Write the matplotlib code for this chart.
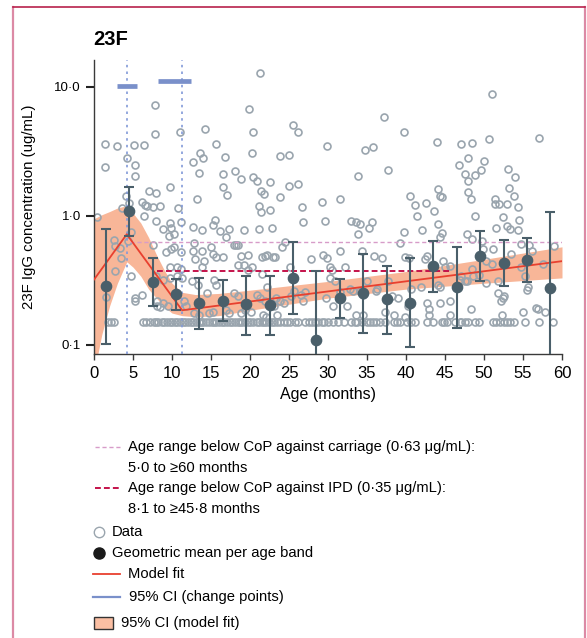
import matplotlib
matplotlib.use('Agg')
import matplotlib.pyplot as plt
import numpy as np
from matplotlib.ticker import FixedLocator, NullLocator

plt.rcParams['font.family'] = ['Liberation Sans', 'DejaVu Sans']

# individual measurements (age in months, IgG ug/mL)
data_age = [7.8, 19.9, 1.4, 3.0, 5.1, 6.4, 7.8, 11.0, 14.2, 20.4, 15.7, 13.6, 14.0, 12.7, 16.8, 20.2,
            4.2, 1.4, 5.3, 5.3, 13.5, 16.5, 18.1, 18.8, 20.4, 9.7, 7.1, 8.0, 16.6, 17.1, 13.2, 4.1,
            4.5, 6.2, 6.5, 7.5, 8.5, 10.8, 3.6,
            21.3, 25.5, 26.2, 23.8, 25.0, 29.9, 34.8, 35.8, 37.2, 39.7, 37.7, 33.9, 20.9, 22.6, 21.4,
            21.8, 25.0, 26.2, 23.8, 29.2, 31.5, 21.2, 22.6, 26.7, 40.5,
            51.0, 44.0, 47.0, 48.4, 50.7, 57.0, 47.9, 46.8, 50.0, 47.6, 49.6, 48.9, 47.9, 53.1, 54.0,
            44.1, 41.2, 42.5, 44.4, 44.6, 47.9, 48.3, 53.2, 53.8, 51.4, 51.4, 51.9, 53.0, 54.4, 43.6,
            0.4, 2.5, 3.5, 2.65, 4.8, 5.3, 6.2, 6.4, 7.9, 8.8, 9.8, 9.9, 11.2, 9.6, 10.3, 12.7, 12.8,
            13.9, 15.3, 15.5, 16.2, 17.3, 16.9, 19.2, 17.9, 18.2, 18.4, 7.5, 9.2, 9.9, 10.3, 11.2,
            12.7, 13.9, 15.0, 15.2, 15.7, 16.5, 13.0, 14.1, 18.8, 19.7, 18.4, 19.2, 13.9, 9.8, 10.6,
            11.1, 19.7, 8.0, 8.8, 9.7, 10.7, 11.3, 12.6, 13.3, 15.4, 15.6, 14.5, 17.9, 18.4, 8.1, 8.9,
            8.1, 8.5, 9.5, 11.5, 11.8, 15.2, 14.7, 16.9, 17.3, 18.8, 19.4, 20.1, 12.8, 13.5,
            4.8, 4.4, 2.7, 3.3, 1.6, 5.2, 6.8,
            21.4, 26.8, 29.6, 21.2, 22.8, 33.0, 33.6, 34.1, 35.2, 35.7, 33.9, 39.7, 39.2, 24.5, 24.1,
            21.9, 22.2, 22.9, 23.2, 21.6, 20.3, 25.1, 27.8, 29.4, 29.9, 31.5, 30.3, 30.5, 32.2, 34.4,
            35.9, 36.9, 21.5, 22.2, 20.9, 21.3, 21.9, 23.8, 24.3, 23.3, 23.1, 23.4, 21.7, 22.1, 25.3,
            25.6, 26.6, 27.0, 26.8, 29.7, 30.7, 30.3, 30.9, 31.5, 32.8, 33.2, 34.1, 34.5, 35.0, 36.2,
            36.3, 33.6, 34.5, 32.4, 37.7, 38.2, 39.0, 38.4, 37.3, 39.9, 40.2, 39.9,
            41.4, 44.1, 42.0, 44.6, 44.4, 48.8, 47.8, 48.4, 54.5, 52.4, 52.9, 53.3, 51.6, 54.4, 54.8,
            55.8, 56.1, 51.1, 49.7, 49.9, 53.5, 42.7, 42.4, 44.7, 40.4, 45.0, 45.6, 48.4, 50.3, 51.0,
            48.6, 49.3, 47.1, 47.8, 46.9, 47.5, 50.2, 51.8, 54.8, 55.2, 57.6, 59.0, 40.6, 41.9, 44.1,
            44.4, 51.8, 52.6, 52.4, 55.6, 44.4, 45.6, 42.7, 42.9, 43.0, 45.6, 48.3, 52.2, 52.3, 55.0,
            56.9, 57.8, 56.7, 55.5]
data_conc = [7.3, 6.8, 3.6, 3.5, 3.55, 3.55, 4.3, 4.5, 4.7, 4.5, 3.64, 3.1, 2.8, 2.6, 2.84, 3.1,
             2.8, 2.39, 2.47, 2.04, 2.15, 2.13, 2.22, 1.92, 2.0, 1.66, 1.56, 1.5, 1.67, 1.46, 1.36, 1.42,
             1.26, 1.28, 1.22, 1.17, 1.19, 1.15, 1.15,
             12.8, 5.1, 4.5, 2.9, 2.97, 3.47, 3.25, 3.45, 5.8, 4.5, 2.27, 2.04, 1.87, 1.82, 1.57,
             1.48, 1.71, 1.78, 1.40, 1.27, 1.35, 1.2, 1.12, 1.17, 1.42,
             8.9, 3.73, 3.6, 3.68, 3.93, 4.0, 2.82, 2.49, 2.65, 2.13, 2.25, 2.06, 1.88, 2.31, 2.0,
             1.62, 1.21, 1.25, 1.42, 1.40, 1.53, 1.36, 1.64, 1.43, 1.34, 1.23, 1.23, 1.23, 1.17, 1.1,
             0.98, 0.65, 0.47, 0.37, 0.34, 0.22, 0.243, 1.0, 0.91, 0.79, 0.88, 0.81, 0.89, 0.70, 0.72, 0.82, 0.62,
             0.78, 0.85, 0.93, 0.76, 0.79, 0.68, 0.78, 0.59, 0.59, 0.59, 0.59, 0.52, 0.55, 0.57, 0.52,
             0.53, 0.53, 0.57, 0.51, 0.48, 0.48, 0.46, 0.45, 0.49, 0.5, 0.415, 0.415, 0.40, 0.40, 0.40,
             0.39, 0.38, 0.34, 0.32, 0.33, 0.34, 0.33, 0.31, 0.29, 0.32, 0.29, 0.25, 0.25, 0.24, 0.22, 0.21,
             0.20, 0.195, 0.20, 0.22, 0.2, 0.18, 0.175, 0.185, 0.175, 0.175, 0.185, 0.18, 0.176, 0.17,
             0.75, 0.64, 0.58, 0.56, 0.235, 0.23, 1.2,
             1.08, 0.89, 0.91, 0.79, 0.80, 0.91, 0.89, 0.86, 0.8, 0.9, 0.72, 0.75, 0.62, 0.63, 0.575,
             0.49, 0.5, 0.48, 0.48, 0.48, 0.4, 0.40, 0.46, 0.5, 0.47, 0.53, 0.40, 0.38, 0.40, 0.53,
             0.49, 0.47, 0.355, 0.28, 0.243, 0.23, 0.22, 0.22, 0.21, 0.23, 0.2, 0.17, 0.17, 0.165, 0.24,
             0.26, 0.245, 0.255, 0.22, 0.23, 0.2, 0.33, 0.31, 0.255, 0.27, 0.26, 0.26, 0.245, 0.31, 0.26,
             0.27, 0.17, 0.17, 0.2, 0.31, 0.24, 0.23, 0.17, 0.18, 0.165, 0.2, 0.48,
             0.99, 0.86, 0.78, 0.74, 0.69, 0.99, 0.72, 0.66, 0.93, 0.98, 0.84, 0.79, 0.8, 0.77, 0.6,
             0.59, 0.53, 0.55, 0.64, 0.55, 0.51, 0.49, 0.46, 0.45, 0.47, 0.40, 0.41, 0.39, 0.45, 0.42,
             0.34, 0.35, 0.34, 0.31, 0.32, 0.31, 0.30, 0.31, 0.40, 0.34, 0.42, 0.58, 0.27, 0.28, 0.29,
             0.28, 0.25, 0.24, 0.23, 0.28, 0.21, 0.22, 0.21, 0.19, 0.17, 0.17, 0.19, 0.22, 0.17, 0.18,
             0.19, 0.18, 0.194, 0.265]

# measurements sitting at the assay floor
floor_value = 0.15
floor_age = [1.8, 2.2, 2.6, 6.3, 6.7, 7.2, 7.7, 8.0, 8.25, 8.7, 9.0, 9.3, 9.7, 10.0, 10.4, 10.7, 11.0,
             11.4, 11.7, 12.1, 12.4, 12.7, 13.1, 13.4, 13.7, 14.0, 14.4, 14.7, 15.1, 15.4, 15.7, 16.0,
             16.4, 16.7, 17.0, 17.4, 17.7, 18.1, 18.4, 18.7, 19.0, 19.4, 19.7, 20.0, 20.4, 20.9, 21.2,
             21.5, 21.8, 22.1, 22.4, 22.8, 23.1, 23.4, 23.85, 24.3, 24.7, 25.1, 25.8, 26.2, 27.1, 27.5,
             27.9, 28.3, 28.7, 29.2, 29.5, 30.0, 30.7, 31.3, 32.0, 33.0, 33.4, 33.7, 34.3, 35.0, 35.4,
             35.8, 36.2, 36.7, 37.3, 38.4, 38.8, 39.2, 40.1, 40.7, 41.2, 42.7, 43.5, 44.6, 44.9, 45.2,
             46.3, 46.9, 47.0, 47.6, 48.0, 48.9, 49.3, 51.2, 51.6, 52.1, 52.5, 52.9, 53.3, 53.8, 55.3,
             57.0, 58.9]

# geometric mean per 3-month age band with 95% CI
band_age = [1.5, 4.5, 7.5, 10.5, 13.5, 16.5, 19.5, 22.5, 25.5, 28.5,
            31.5, 34.5, 37.5, 40.5, 43.5, 46.5, 49.5, 52.5, 55.5, 58.5]
gm = [0.284, 1.09, 0.308, 0.246, 0.211, 0.219, 0.206, 0.203, 0.327, 0.108,
      0.229, 0.25, 0.225, 0.21, 0.407, 0.278, 0.49, 0.432, 0.453, 0.277]
gm_lo = [0.102, 0.70, 0.20, 0.186, 0.133, 0.153, 0.12, 0.12, 0.174, 0.08,
         0.162, 0.124, 0.121, 0.0965, 0.258, 0.136, 0.312, 0.287, 0.308, 0.08]
gm_hi = [0.789, 1.68, 0.473, 0.323, 0.331, 0.318, 0.343, 0.343, 0.622, 0.375,
         0.323, 0.505, 0.407, 0.467, 0.636, 0.569, 0.761, 0.652, 0.675, 1.07]

# piecewise model fit and its 95% band
fit_age = [0, 4.2, 11.3, 60]
fit_val = [0.32, 0.72, 0.185, 0.445]
ci_age = [0, 1, 2, 3, 4.2, 5, 6, 7, 8, 9, 10, 11.3, 13, 16, 20, 30, 40, 50, 60]
ci_hi = [0.95, 1.02, 1.08, 1.15, 1.2, 1.05, 0.88, 0.68, 0.5, 0.38, 0.3, 0.255, 0.245, 0.25,
         0.265, 0.31, 0.37, 0.46, 0.575]
ci_lo = [0.06, 0.12, 0.2, 0.3, 0.44, 0.4, 0.34, 0.27, 0.23, 0.197, 0.176, 0.168, 0.165, 0.168,
         0.185, 0.23, 0.27, 0.30, 0.33]

# change points and their CIs
change_pts = [4.2, 11.3]
cp_lo = [2.9, 8.2]
cp_hi = [5.5, 12.4]
cp_y = [10.1, 11.1]

# correlates of protection
cop_carriage = 0.63
carriage_range = [4.6, 60]
cop_ipd = 0.375
ipd_range = [8.1, 45.8]

yticks = [0.1, 1.0, 10.0]
ytick_labels = ['0·1', '1·0', '10·0']
xticks = list(range(0, 61, 5))

W, H = 587, 638
fig = plt.figure(figsize=(W / 100, H / 100), dpi=100)
ax = fig.add_axes([94 / W, 1 - 354 / H, 468 / W, 294 / H])

ax.fill_between(ci_age, ci_lo, ci_hi, color='#f8b698', lw=0, zorder=1)
ax.plot(data_age, data_conc, 'o', mfc='none', mec='#9aa5ae', ms=5.0, mew=1.2, zorder=2)
ax.plot(floor_age, [floor_value] * len(floor_age), 'o', mfc='none', mec='#9aa5ae',
        ms=5.0, mew=1.2, zorder=2)
ax.hlines(cop_carriage, *carriage_range, colors='#d79cc9', lw=1.0, linestyles=(0, (3, 2)), zorder=2.5)
ax.hlines(cop_ipd, *ipd_range, colors='#c4124a', lw=1.4, linestyles=(0, (3, 1.6)), zorder=2.5)
for cp in change_pts:
    ax.axvline(cp, color='#8299d8', lw=1.2, ls=(0, (1.5, 2.5)), zorder=2.6)
ax.hlines(cp_y, cp_lo, cp_hi, colors='#7a90ca', lw=3.4, zorder=3)
ax.plot(fit_age, fit_val, color='#e8402f', lw=1.3, zorder=3)

gm_arr = np.array(gm)
ax.errorbar(band_age, gm, yerr=[gm_arr - np.array(gm_lo), np.array(gm_hi) - gm_arr],
            fmt='o', ms=7.4, color='#4a5f6a', ecolor='#4a5f6a', elinewidth=1.5,
            capsize=3.3, capthick=1.5, zorder=4)

ax.set_yscale('log')
ax.set_ylim(0.0847, 16.2)
ax.set_xlim(0, 60)
ax.yaxis.set_major_locator(FixedLocator(yticks))
ax.yaxis.set_minor_locator(NullLocator())
ax.set_yticklabels(ytick_labels)
ax.set_xticks(xticks)
for s in ['top', 'right']:
    ax.spines[s].set_visible(False)
for s in ['left', 'bottom']:
    ax.spines[s].set_color('#3a3a3a')
    ax.spines[s].set_linewidth(1.0)
ax.tick_params(axis='y', length=6, width=1.5, color='#222222', labelsize=9.5, pad=3.5)
ax.tick_params(axis='x', length=4.5, width=1.0, color='#3a3a3a', labelsize=12, pad=4)
ax.set_ylabel('23F IgG concentration (ug/mL)', fontsize=10.8)
ax.yaxis.set_label_coords(-0.124, 0.5)
ax.set_xlabel('Age (months)', fontsize=11.5)
ax.xaxis.set_label_coords(0.5, -0.112)

fig.text(93 / W, 1 - 45 / H, '23F', fontsize=14.5, fontweight='bold', va='baseline')

# legend drawn in pixel space below the plot
lax = fig.add_axes([0, 0, 1, 1], zorder=-1)
lax.set_xlim(0, W)
lax.set_ylim(H, 0)
lax.axis('off')
fs = 10.6
lax.plot([95, 121], [447, 447], color='#d79cc9', lw=1.0, ls=(0, (3, 2)))
lax.text(128, 447, 'Age range below CoP against carriage (0·63 μg/mL):', fontsize=fs, va='center')
lax.text(128, 468, '5·0 to ≥60 months', fontsize=fs, va='center')
lax.plot([95, 121], [488, 488], color='#c4124a', lw=1.4, ls=(0, (3, 1.6)))
lax.text(128, 488, 'Age range below CoP against IPD (0·35 μg/mL):', fontsize=fs, va='center')
lax.text(128, 509, '8·1 to ≥45·8 months', fontsize=fs, va='center')
lax.plot([99.3], [532], 'o', mfc='white', mec='#9aa5ae', ms=7.5, mew=1.0)
lax.text(111.7, 532, 'Data', fontsize=fs, va='center')
lax.plot([99.3], [553], 'o', color='#1a1a1a', ms=8)
lax.text(111.7, 553, 'Geometric mean per age band', fontsize=fs, va='center')
lax.plot([93, 120], [574, 574], color='#e8402f', lw=1.3)
lax.text(127.7, 574, 'Model fit', fontsize=fs, va='center')
lax.plot([93, 120], [597, 597], color='#7a90ca', lw=1.6)
lax.text(129.3, 597, '95% CI (change points)', fontsize=fs, va='center')
lax.add_patch(plt.Rectangle((93.5, 617), 19, 12, facecolor='#fbbfa3', edgecolor='#333333', lw=1.0))
lax.text(120.7, 623, '95% CI (model fit)', fontsize=fs, va='center')

# panel frame
lax.plot([13, 13], [7, H], color='#dc8aa5', lw=1.6)
lax.plot([584.5, 584.5], [7, H], color='#dc8aa5', lw=1.6)
lax.plot([13, 584.5], [7, 7], color='#b8214b', lw=1.2)

fig.savefig('out.png', dpi=100)
